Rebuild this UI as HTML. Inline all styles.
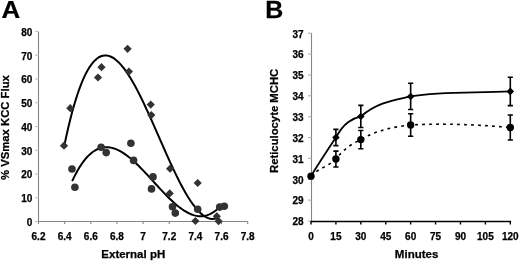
<!DOCTYPE html><html><head><meta charset="utf-8"><style>html,body{margin:0;padding:0;background:#fff;}svg{display:block;will-change:transform;}text{font-family:"Liberation Sans",sans-serif;font-weight:bold;fill:#000;stroke:#000;stroke-width:0.25px;}</style></head><body>
<svg width="520" height="261" viewBox="0 0 520 261">
<rect width="520" height="261" fill="#fff"/>
<text transform="translate(1.5,18.2) scale(1.085,1)" font-size="23.8">A</text>
<text transform="translate(265.3,18.2) scale(1.05,1)" font-size="23.8">B</text>
<g stroke="#858585" stroke-width="1.1" fill="none">
<line x1="38.5" y1="31.5" x2="38.5" y2="221.5"/>
<line x1="38.5" y1="221.5" x2="247.69999999999996" y2="221.5"/>
<line stroke="#c4c4c4" x1="35" y1="221.50" x2="38.5" y2="221.50"/>
<line stroke="#c4c4c4" x1="35" y1="197.75" x2="38.5" y2="197.75"/>
<line stroke="#c4c4c4" x1="35" y1="174.00" x2="38.5" y2="174.00"/>
<line stroke="#c4c4c4" x1="35" y1="150.25" x2="38.5" y2="150.25"/>
<line stroke="#c4c4c4" x1="35" y1="126.50" x2="38.5" y2="126.50"/>
<line stroke="#c4c4c4" x1="35" y1="102.75" x2="38.5" y2="102.75"/>
<line stroke="#c4c4c4" x1="35" y1="79.00" x2="38.5" y2="79.00"/>
<line stroke="#c4c4c4" x1="35" y1="55.25" x2="38.5" y2="55.25"/>
<line stroke="#c4c4c4" x1="35" y1="31.50" x2="38.5" y2="31.50"/>
<line x1="38.50" y1="221.5" x2="38.50" y2="224.0"/>
<line x1="64.65" y1="221.5" x2="64.65" y2="224.0"/>
<line x1="90.80" y1="221.5" x2="90.80" y2="224.0"/>
<line x1="116.95" y1="221.5" x2="116.95" y2="224.0"/>
<line x1="143.10" y1="221.5" x2="143.10" y2="224.0"/>
<line x1="169.25" y1="221.5" x2="169.25" y2="224.0"/>
<line x1="195.40" y1="221.5" x2="195.40" y2="224.0"/>
<line x1="221.55" y1="221.5" x2="221.55" y2="224.0"/>
<line x1="247.70" y1="221.5" x2="247.70" y2="224.0"/>
</g>
<text x="32.3" y="225.80" font-size="10" text-anchor="end">0</text>
<text x="32.3" y="202.05" font-size="10" text-anchor="end">10</text>
<text x="32.3" y="178.30" font-size="10" text-anchor="end">20</text>
<text x="32.3" y="154.55" font-size="10" text-anchor="end">30</text>
<text x="32.3" y="130.80" font-size="10" text-anchor="end">40</text>
<text x="32.3" y="107.05" font-size="10" text-anchor="end">50</text>
<text x="32.3" y="83.30" font-size="10" text-anchor="end">60</text>
<text x="32.3" y="59.55" font-size="10" text-anchor="end">70</text>
<text x="32.3" y="35.80" font-size="10" text-anchor="end">80</text>
<text x="38.50" y="239.6" font-size="10" text-anchor="middle">6.2</text>
<text x="64.65" y="239.6" font-size="10" text-anchor="middle">6.4</text>
<text x="90.80" y="239.6" font-size="10" text-anchor="middle">6.6</text>
<text x="116.95" y="239.6" font-size="10" text-anchor="middle">6.8</text>
<text x="143.10" y="239.6" font-size="10" text-anchor="middle">7</text>
<text x="169.25" y="239.6" font-size="10" text-anchor="middle">7.2</text>
<text x="195.40" y="239.6" font-size="10" text-anchor="middle">7.4</text>
<text x="221.55" y="239.6" font-size="10" text-anchor="middle">7.6</text>
<text x="247.70" y="239.6" font-size="10" text-anchor="middle">7.8</text>
<text x="133.3" y="258.1" font-size="11.5" text-anchor="middle">External pH</text>
<text transform="translate(9.2,127.6) rotate(-90)" x="0" y="0" font-size="11.3" text-anchor="middle">% VSmax KCC Flux</text>
<path d="M64.50,144.66 L66.42,135.71 L68.34,127.31 L70.25,119.43 L72.17,112.07 L74.09,105.23 L76.01,98.87 L77.92,93.00 L79.84,87.61 L81.76,82.67 L83.68,78.19 L85.59,74.15 L87.51,70.53 L89.43,67.34 L91.35,64.55 L93.27,62.15 L95.18,60.14 L97.10,58.51 L99.02,57.23 L100.94,56.30 L102.85,55.72 L104.77,55.46 L106.69,55.52 L108.61,55.88 L110.53,56.54 L112.44,57.48 L114.36,58.69 L116.28,60.17 L118.20,61.89 L120.11,63.85 L122.03,66.04 L123.95,68.45 L125.87,71.06 L127.78,73.86 L129.70,76.85 L131.62,80.00 L133.54,83.32 L135.46,86.79 L137.37,90.39 L139.29,94.12 L141.21,97.96 L143.13,101.91 L145.04,105.96 L146.96,110.08 L148.88,114.27 L150.80,118.53 L152.72,122.83 L154.63,127.17 L156.55,131.53 L158.47,135.91 L160.39,140.29 L162.30,144.67 L164.22,149.02 L166.14,153.34 L168.06,157.63 L169.97,161.86 L171.89,166.02 L173.81,170.12 L175.73,174.12 L177.65,178.03 L179.56,181.83 L181.48,185.50 L183.40,189.05 L185.32,192.46 L187.23,195.71 L189.15,198.80 L191.07,201.71 L192.99,204.43 L194.91,206.96 L196.82,209.27 L198.74,211.37 L200.66,213.23 L202.58,214.86 L204.49,216.22 L206.41,217.32 L208.33,218.15 L210.25,218.68 L212.16,218.92 L214.08,218.85 L216.00,218.46" stroke="#000" stroke-width="2" fill="none"/>
<path d="M72.20,181.10 L74.10,177.12 L75.99,173.42 L77.89,170.00 L79.78,166.85 L81.68,163.96 L83.58,161.32 L85.47,158.94 L87.37,156.79 L89.27,154.89 L91.16,153.21 L93.06,151.75 L94.95,150.50 L96.85,149.47 L98.75,148.64 L100.64,148.00 L102.54,147.55 L104.44,147.28 L106.33,147.19 L108.23,147.26 L110.12,147.50 L112.02,147.89 L113.92,148.42 L115.81,149.10 L117.71,149.91 L119.61,150.85 L121.50,151.91 L123.40,153.09 L125.29,154.37 L127.19,155.75 L129.09,157.23 L130.98,158.79 L132.88,160.44 L134.77,162.16 L136.67,163.94 L138.57,165.78 L140.46,167.68 L142.36,169.63 L144.26,171.61 L146.15,173.63 L148.05,175.67 L149.94,177.73 L151.84,179.81 L153.74,181.89 L155.63,183.98 L157.53,186.05 L159.43,188.11 L161.32,190.15 L163.22,192.16 L165.11,194.14 L167.01,196.08 L168.91,197.97 L170.80,199.80 L172.70,201.58 L174.59,203.28 L176.49,204.91 L178.39,206.46 L180.28,207.92 L182.18,209.29 L184.08,210.55 L185.97,211.71 L187.87,212.75 L189.76,213.67 L191.66,214.46 L193.56,215.12 L195.45,215.63 L197.35,215.99 L199.25,216.20 L201.14,216.25 L203.04,216.13 L204.93,215.83 L206.83,215.35 L208.73,214.68 L210.62,213.81 L212.52,212.74 L214.42,211.46 L216.31,209.97 L218.21,208.25 L220.10,206.31 L222.00,204.12" stroke="#000" stroke-width="2" fill="none"/>
<path d="M64.00,141.60 L68.10,145.70 L64.00,149.80 L59.90,145.70 Z" fill="#333"/>
<path d="M70.30,104.10 L74.40,108.20 L70.30,112.30 L66.20,108.20 Z" fill="#333"/>
<path d="M98.00,73.40 L102.10,77.50 L98.00,81.60 L93.90,77.50 Z" fill="#333"/>
<path d="M101.50,63.10 L105.60,67.20 L101.50,71.30 L97.40,67.20 Z" fill="#333"/>
<path d="M127.60,44.70 L131.70,48.80 L127.60,52.90 L123.50,48.80 Z" fill="#333"/>
<path d="M128.90,67.50 L133.00,71.60 L128.90,75.70 L124.80,71.60 Z" fill="#333"/>
<path d="M150.70,100.50 L154.80,104.60 L150.70,108.70 L146.60,104.60 Z" fill="#333"/>
<path d="M151.30,111.00 L155.40,115.10 L151.30,119.20 L147.20,115.10 Z" fill="#333"/>
<path d="M170.10,164.60 L174.20,168.70 L170.10,172.80 L166.00,168.70 Z" fill="#333"/>
<path d="M169.70,189.30 L173.80,193.40 L169.70,197.50 L165.60,193.40 Z" fill="#333"/>
<path d="M195.40,216.90 L199.50,221.00 L195.40,225.10 L191.30,221.00 Z" fill="#333"/>
<path d="M197.70,178.90 L201.80,183.00 L197.70,187.10 L193.60,183.00 Z" fill="#333"/>
<path d="M216.80,212.20 L220.90,216.30 L216.80,220.40 L212.70,216.30 Z" fill="#333"/>
<path d="M218.60,217.10 L222.70,221.20 L218.60,225.30 L214.50,221.20 Z" fill="#333"/>
<circle cx="72.00" cy="169.00" r="3.8" fill="#333"/>
<circle cx="74.90" cy="187.30" r="3.8" fill="#333"/>
<circle cx="101.10" cy="147.20" r="3.8" fill="#333"/>
<circle cx="106.20" cy="152.60" r="3.8" fill="#333"/>
<circle cx="130.90" cy="143.20" r="3.8" fill="#333"/>
<circle cx="133.60" cy="160.40" r="3.8" fill="#333"/>
<circle cx="153.00" cy="176.90" r="3.8" fill="#333"/>
<circle cx="151.50" cy="188.90" r="3.8" fill="#333"/>
<circle cx="172.50" cy="206.80" r="3.8" fill="#333"/>
<circle cx="175.30" cy="213.10" r="3.8" fill="#333"/>
<circle cx="197.70" cy="209.30" r="3.8" fill="#333"/>
<circle cx="219.70" cy="207.10" r="3.8" fill="#333"/>
<circle cx="224.30" cy="206.30" r="3.8" fill="#333"/>
<g stroke="#858585" stroke-width="1.1" fill="none">
<line x1="311.5" y1="33.20" x2="311.5" y2="221.0"/>
<line stroke="#b0b0b0" x1="308" y1="221.00" x2="311.5" y2="221.00"/>
<line stroke="#b0b0b0" x1="308" y1="200.13" x2="311.5" y2="200.13"/>
<line stroke="#b0b0b0" x1="308" y1="179.27" x2="311.5" y2="179.27"/>
<line stroke="#b0b0b0" x1="308" y1="158.40" x2="311.5" y2="158.40"/>
<line stroke="#b0b0b0" x1="308" y1="137.53" x2="311.5" y2="137.53"/>
<line stroke="#b0b0b0" x1="308" y1="116.67" x2="311.5" y2="116.67"/>
<line stroke="#b0b0b0" x1="308" y1="95.80" x2="311.5" y2="95.80"/>
<line stroke="#b0b0b0" x1="308" y1="74.93" x2="311.5" y2="74.93"/>
<line stroke="#b0b0b0" x1="308" y1="54.07" x2="311.5" y2="54.07"/>
<line stroke="#b0b0b0" x1="308" y1="33.20" x2="311.5" y2="33.20"/>
</g>
<g stroke="#000" stroke-width="1.6" fill="none">
<line x1="311.0" y1="221.5" x2="511.1" y2="221.5"/>
<line x1="311.00" y1="221.0" x2="311.00" y2="224.5" stroke-width="1.4"/>
<line x1="335.91" y1="221.0" x2="335.91" y2="224.5" stroke-width="1.4"/>
<line x1="360.82" y1="221.0" x2="360.82" y2="224.5" stroke-width="1.4"/>
<line x1="385.74" y1="221.0" x2="385.74" y2="224.5" stroke-width="1.4"/>
<line x1="410.65" y1="221.0" x2="410.65" y2="224.5" stroke-width="1.4"/>
<line x1="435.56" y1="221.0" x2="435.56" y2="224.5" stroke-width="1.4"/>
<line x1="460.48" y1="221.0" x2="460.48" y2="224.5" stroke-width="1.4"/>
<line x1="485.39" y1="221.0" x2="485.39" y2="224.5" stroke-width="1.4"/>
<line x1="510.30" y1="221.0" x2="510.30" y2="224.5" stroke-width="1.4"/>
</g>
<text x="303.7" y="225.30" font-size="10" text-anchor="end">28</text>
<text x="303.7" y="204.43" font-size="10" text-anchor="end">29</text>
<text x="303.7" y="183.57" font-size="10" text-anchor="end">30</text>
<text x="303.7" y="162.70" font-size="10" text-anchor="end">31</text>
<text x="303.7" y="141.83" font-size="10" text-anchor="end">32</text>
<text x="303.7" y="120.97" font-size="10" text-anchor="end">33</text>
<text x="303.7" y="100.10" font-size="10" text-anchor="end">34</text>
<text x="303.7" y="79.23" font-size="10" text-anchor="end">35</text>
<text x="303.7" y="58.37" font-size="10" text-anchor="end">36</text>
<text x="303.7" y="37.50" font-size="10" text-anchor="end">37</text>
<text x="311.00" y="239.6" font-size="10" text-anchor="middle">0</text>
<text x="335.91" y="239.6" font-size="10" text-anchor="middle">15</text>
<text x="360.82" y="239.6" font-size="10" text-anchor="middle">30</text>
<text x="385.74" y="239.6" font-size="10" text-anchor="middle">45</text>
<text x="410.65" y="239.6" font-size="10" text-anchor="middle">60</text>
<text x="435.56" y="239.6" font-size="10" text-anchor="middle">75</text>
<text x="460.48" y="239.6" font-size="10" text-anchor="middle">90</text>
<text x="485.39" y="239.6" font-size="10" text-anchor="middle">105</text>
<text x="510.30" y="239.6" font-size="10" text-anchor="middle">120</text>
<text x="416.6" y="258.1" font-size="11.5" text-anchor="middle">Minutes</text>
<text transform="translate(278.1,120.9) rotate(-90)" x="0" y="0" font-size="11.3" text-anchor="middle">Reticulocyte MCHC</text>
<path d="M311.00,176.14 C319.30,162.33 327.61,149.97 335.91,137.53 C344.22,121.97 352.52,118.51 360.82,116.46 C377.43,102.16 394.04,100.21 410.65,96.43 C443.87,91.25 477.08,93.34 510.30,91.42" stroke="#000" stroke-width="1.8" fill="none"/>
<path d="M311.00,176.14 C319.30,167.48 327.61,167.15 335.91,159.03 C344.22,148.52 352.52,143.52 360.82,139.62 C377.43,129.85 394.04,126.79 410.65,125.01 C443.87,123.09 477.08,124.68 510.30,127.52" stroke="#000" stroke-width="1.6" fill="none" stroke-dasharray="2.8 4.2"/>
<path d="M335.91,129.40 L335.91,145.67 M333.31,129.40 L338.51,129.40 M333.31,145.67 L338.51,145.67" stroke="#000" stroke-width="1.6" fill="none"/>
<path d="M360.82,105.40 L360.82,127.52 M358.22,105.40 L363.43,105.40 M358.22,127.52 L363.43,127.52" stroke="#000" stroke-width="1.6" fill="none"/>
<path d="M410.65,83.28 L410.65,109.57 M408.05,83.28 L413.25,83.28 M408.05,109.57 L413.25,109.57" stroke="#000" stroke-width="1.6" fill="none"/>
<path d="M510.30,77.23 L510.30,105.61 M507.70,77.23 L512.90,77.23 M507.70,105.61 L512.90,105.61" stroke="#000" stroke-width="1.6" fill="none"/>
<path d="M335.91,151.10 L335.91,166.96 M333.31,151.10 L338.51,151.10 M333.31,166.96 L338.51,166.96" stroke="#000" stroke-width="1.6" fill="none"/>
<path d="M360.82,130.44 L360.82,148.80 M358.22,130.44 L363.43,130.44 M358.22,148.80 L363.43,148.80" stroke="#000" stroke-width="1.6" fill="none"/>
<path d="M410.65,113.75 L410.65,136.28 M408.05,113.75 L413.25,113.75 M408.05,136.28 L413.25,136.28" stroke="#000" stroke-width="1.6" fill="none"/>
<path d="M510.30,115.00 L510.30,140.04 M507.70,115.00 L512.90,115.00 M507.70,140.04 L512.90,140.04" stroke="#000" stroke-width="1.6" fill="none"/>
<path d="M335.91,133.73 L339.71,137.53 L335.91,141.33 L332.11,137.53 Z" fill="#000"/>
<path d="M360.82,112.66 L364.62,116.46 L360.82,120.26 L357.02,116.46 Z" fill="#000"/>
<path d="M410.65,92.63 L414.45,96.43 L410.65,100.23 L406.85,96.43 Z" fill="#000"/>
<path d="M510.30,87.62 L514.10,91.42 L510.30,95.22 L506.50,91.42 Z" fill="#000"/>
<circle cx="311.00" cy="176.14" r="3.7" fill="#000"/>
<circle cx="335.91" cy="159.03" r="3.7" fill="#000"/>
<circle cx="360.82" cy="139.62" r="3.7" fill="#000"/>
<circle cx="410.65" cy="125.01" r="3.7" fill="#000"/>
<circle cx="510.30" cy="127.52" r="3.7" fill="#000"/>
</svg></body></html>
